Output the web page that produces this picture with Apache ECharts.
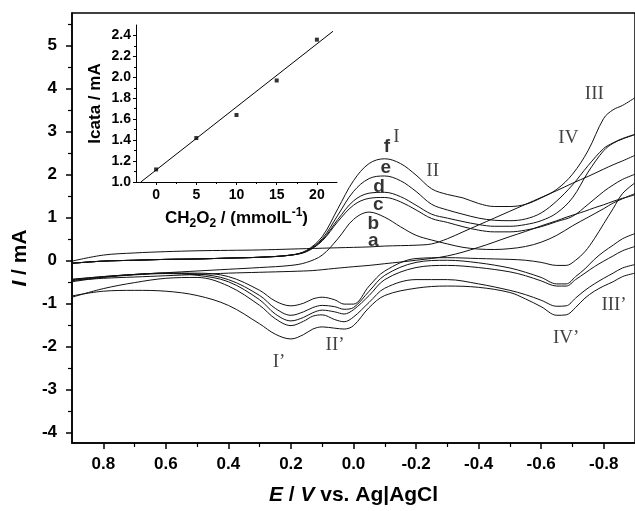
<!DOCTYPE html>
<html><head><meta charset="utf-8">
<script src="https://cdn.jsdelivr.net/npm/echarts@6/dist/echarts.min.js"></script>
<style>html,body{margin:0;padding:0;background:#fff}#c{width:635px;height:511px}</style>
</head><body><div id="c"></div>
<script>
// ---- main CV data (E in V, I in mA) ----
const E_FWD = [0.9, 0.8, 0.7, 0.6, 0.5, 0.4, 0.3, 0.2, 0.15, 0.1, 0.05, 0.0, -0.05, -0.1, -0.15, -0.2, -0.25, -0.3, -0.35, -0.4, -0.45, -0.5, -0.55, -0.6, -0.65, -0.7, -0.75, -0.8, -0.83, -0.86, -0.9];
const E_REV = [-0.9, -0.86, -0.83, -0.8, -0.77, -0.74, -0.71, -0.68, -0.65, -0.6, -0.55, -0.5, -0.4, -0.3, -0.2, -0.1, -0.05, 0.0, 0.03, 0.06, 0.1, 0.13, 0.16, 0.2, 0.25, 0.3, 0.4, 0.5, 0.6, 0.7, 0.8, 0.9];

const I_A_FWD = [-0.02, 0.12, 0.17, 0.2, 0.22, 0.23, 0.24, 0.26, 0.27, 0.28, 0.29, 0.3, 0.31, 0.33, 0.34, 0.35, 0.38, 0.5, 0.66, 0.82, 0.98, 1.14, 1.3, 1.46, 1.62, 1.79, 1.95, 2.12, 2.22, 2.31, 2.44];
const I_B_FWD = [-0.44, -0.38, -0.33, -0.29, -0.25, -0.21, -0.17, -0.12, -0.05, 0.12, 0.5, 0.95, 1.12, 1.0, 0.78, 0.58, 0.47, 0.38, 0.3, 0.26, 0.25, 0.27, 0.32, 0.42, 0.58, 0.8, 1.0, 1.2, 1.33, 1.43, 1.55];
const I_C_FWD = [-0.07, -0.02, 0.0, 0.02, 0.03, 0.05, 0.07, 0.12, 0.2, 0.45, 0.9, 1.28, 1.44, 1.46, 1.36, 1.17, 0.97, 0.88, 0.78, 0.7, 0.66, 0.66, 0.7, 0.78, 0.9, 1.02, 1.3, 1.6, 1.75, 1.88, 2.0];
const I_D_FWD = [-0.07, -0.02, 0.0, 0.02, 0.03, 0.05, 0.07, 0.12, 0.21, 0.47, 0.95, 1.38, 1.56, 1.58, 1.48, 1.28, 1.07, 0.98, 0.9, 0.83, 0.79, 0.79, 0.83, 0.92, 1.1, 1.45, 2.05, 2.55, 2.72, 2.82, 2.92];
const I_E_FWD = [-0.07, -0.02, 0.0, 0.02, 0.03, 0.05, 0.07, 0.12, 0.22, 0.5, 1.05, 1.6, 1.9, 1.96, 1.85, 1.6, 1.3, 1.17, 1.07, 0.98, 0.93, 0.92, 0.96, 1.1, 1.38, 1.75, 2.2, 2.6, 2.73, 2.83, 2.93];
const I_F_FWD = [-0.07, -0.02, 0.0, 0.02, 0.03, 0.05, 0.07, 0.12, 0.23, 0.55, 1.2, 1.85, 2.25, 2.36, 2.25, 1.98, 1.66, 1.53, 1.45, 1.32, 1.25, 1.25, 1.3, 1.45, 1.65, 2.0, 2.55, 3.3, 3.5, 3.6, 3.78];

const I_A_REV = [1.52, 1.44, 1.37, 1.29, 1.22, 1.14, 1.07, 1.0, 0.92, 0.8, 0.67, 0.55, 0.3, 0.1, 0.0, -0.08, -0.12, -0.15, -0.17, -0.19, -0.22, -0.24, -0.25, -0.26, -0.27, -0.28, -0.3, -0.33, -0.36, -0.39, -0.42, -0.47];
const I_B_REV = [1.8, 1.55, 1.2, 0.85, 0.5, 0.2, 0.0, -0.12, -0.12, -0.05, 0.0, 0.02, 0.04, 0.06, 0.04, -0.25, -0.6, -1.02, -1.02, -0.92, -0.86, -0.9, -1.0, -1.06, -0.95, -0.7, -0.38, -0.3, -0.3, -0.33, -0.38, -0.45];
const I_C_REV = [0.62, 0.5, 0.35, 0.2, 0.02, -0.2, -0.38, -0.55, -0.55, -0.4, -0.28, -0.18, -0.06, 0.0, -0.05, -0.35, -0.72, -1.1, -1.14, -1.08, -1.05, -1.1, -1.2, -1.28, -1.12, -0.82, -0.45, -0.32, -0.3, -0.33, -0.39, -0.47];
const I_D_REV = [0.32, 0.22, 0.1, -0.02, -0.15, -0.3, -0.45, -0.6, -0.6, -0.48, -0.36, -0.27, -0.17, -0.12, -0.17, -0.45, -0.82, -1.15, -1.25, -1.2, -1.16, -1.22, -1.33, -1.41, -1.25, -0.92, -0.5, -0.35, -0.31, -0.34, -0.4, -0.5];
const I_E_REV = [-0.1, -0.18, -0.3, -0.42, -0.55, -0.7, -0.88, -1.06, -1.07, -0.93, -0.8, -0.7, -0.55, -0.45, -0.45, -0.65, -0.98, -1.32, -1.43, -1.38, -1.27, -1.3, -1.42, -1.52, -1.36, -1.05, -0.6, -0.4, -0.42, -0.52, -0.66, -0.86];
const I_F_REV = [-0.3, -0.38, -0.5, -0.6, -0.72, -0.88, -1.1, -1.27, -1.28, -1.08, -0.9, -0.75, -0.63, -0.6, -0.65, -0.82, -1.1, -1.52, -1.6, -1.58, -1.55, -1.6, -1.73, -1.83, -1.72, -1.48, -1.05, -0.82, -0.72, -0.7, -0.72, -0.83];

// ---- inset data ----
const INSET_C = [0, 5, 10, 15, 20];
const INSET_I = [1.12, 1.42, 1.64, 1.97, 2.36];
const FIT_X = [-1.9, 22.0];
const FIT_Y = [1.0, 2.44];

// ---- ticks ----
const X_TICKS = [0.8, 0.6, 0.4, 0.2, 0.0, -0.2, -0.4, -0.6, -0.8];
const X_MINOR = [0.7, 0.5, 0.3, 0.1, -0.1, -0.3, -0.5, -0.7];
const Y_TICKS = [-4, -3, -2, -1, 0, 1, 2, 3, 4, 5];
const Y_MINOR = [-3.5, -2.5, -1.5, -0.5, 0.5, 1.5, 2.5, 3.5, 4.5, 5.5];
const IX_TICKS = [0, 5, 10, 15, 20];
const IX_MINOR = [2.5, 7.5, 12.5, 17.5];
const IY_TICKS = [1.0, 1.2, 1.4, 1.6, 1.8, 2.0, 2.2, 2.4];
const IY_MINOR = [1.1, 1.3, 1.5, 1.7, 1.9, 2.1, 2.3];

// ---- annotations ----
const LETTER_E = [-0.107, -0.103, -0.082, -0.079, -0.063, -0.063];
const LETTER_I = [2.64, 2.15, 1.72, 1.3, 0.84, 0.45];
const LETTER_TXT = ['f', 'e', 'd', 'c', 'b', 'a'];
const ROMAN_E = [-0.137, -0.253, -0.77, -0.687, 0.238, 0.059, -0.68, -0.833];
const ROMAN_I = [2.86, 2.07, 3.87, 2.85, -2.36, -1.96, -1.82, -1.04];
const ROMAN_TXT = ['I', 'II', 'III', 'IV', 'I\u2019', 'II\u2019', 'IV\u2019', 'III\u2019'];

const SANS = "'Liberation Sans', Arial, Helvetica, sans-serif";
const SERIF = "'Liberation Serif', 'Times New Roman', serif";

const zip = (a, b) => a.map((v, i) => [v, b[i]]);

function tickAxis(o) {
  return Object.assign({
    type: 'value', splitLine: { show: false },
    axisLine: { show: false, onZero: false },
    axisTick: { show: false }, axisLabel: { show: false }
  }, o);
}

const chart = echarts.init(document.getElementById('c'), null, { renderer: 'canvas' });

const curves = [
  ['a', I_A_FWD, I_A_REV], ['b', I_B_FWD, I_B_REV], ['c', I_C_FWD, I_C_REV],
  ['d', I_D_FWD, I_D_REV], ['e', I_E_FWD, I_E_REV], ['f', I_F_FWD, I_F_REV]
];
const series = [];
curves.forEach(([k, fwd, rev]) => {
  [[E_FWD, fwd], [E_REV, rev]].forEach(([ex, iy]) => {
    series.push({
      type: 'line', xAxisIndex: 0, yAxisIndex: 0, data: zip(ex, iy),
      showSymbol: false, smooth: 0.35, silent: true,
      lineStyle: { color: '#111', width: 1 }
    });
  });
});
series.push({
  type: 'line', xAxisIndex: 2, yAxisIndex: 2, data: zip(FIT_X, FIT_Y),
  showSymbol: false, silent: true, lineStyle: { color: '#000', width: 1 }
});
series.push({
  type: 'scatter', xAxisIndex: 2, yAxisIndex: 2, data: zip(INSET_C, INSET_I),
  symbol: 'rect', symbolSize: 4, itemStyle: { color: '#000' }, silent: true
});
series.push({
  type: 'scatter', xAxisIndex: 0, yAxisIndex: 0, symbolSize: 0, silent: true,
  data: LETTER_E.map((e, i) => [e, LETTER_I[i], LETTER_TXT[i]]),
  label: { show: true, position: 'inside', formatter: p => p.data[2],
    fontFamily: SANS, fontWeight: 'bold', fontSize: 19, color: '#000' }
});
series.push({
  type: 'scatter', xAxisIndex: 0, yAxisIndex: 0, symbolSize: 0, silent: true,
  data: ROMAN_E.map((e, i) => [e, ROMAN_I[i], ROMAN_TXT[i]]),
  label: { show: true, position: 'inside', formatter: p => p.data[2],
    fontFamily: SERIF, fontWeight: 'normal', fontSize: 19, color: '#111' }
});

const option = {
  animation: false,
  backgroundColor: '#fff',
  grid: [
    { left: 72, top: 13, width: 569, height: 430, show: true, borderColor: '#000', borderWidth: 1.5, backgroundColor: 'transparent' },
    { left: 136, top: 25, width: 201, height: 157, show: false }
  ],
  xAxis: [
    {
      type: 'value', gridIndex: 0, position: 'bottom', min: -0.9, max: 0.9, inverse: true,
      splitLine: { show: false },
      axisLine: { show: true, onZero: false, lineStyle: { color: '#000', width: 1.5 } },
      axisTick: { show: true, inside: false, length: 6, customValues: X_TICKS, lineStyle: { color: '#000', width: 1.5 } },
      axisLabel: { show: true, customValues: X_TICKS, formatter: v => Number(v).toFixed(1), margin: 13,
        fontFamily: SANS, fontWeight: 'bold', fontSize: 17, color: '#000' },
      name: '{i|E} / {i|V} vs. Ag|AgCl', nameLocation: 'middle', nameGap: 42,
      nameTextStyle: { fontFamily: SANS, fontWeight: 'bold', fontSize: 21, color: '#000',
        rich: { i: { fontFamily: SANS, fontWeight: 'bold', fontStyle: 'italic', fontSize: 21, color: '#000' } } }
    },
    tickAxis({ gridIndex: 0, position: 'bottom', min: -0.9, max: 0.9, inverse: true,
      axisTick: { show: true, length: 4, customValues: X_MINOR, lineStyle: { color: '#000', width: 1.2 } } }),
    {
      type: 'value', gridIndex: 1, position: 'bottom', min: -2.5, max: 22.5,
      splitLine: { show: false },
      axisLine: { show: true, onZero: false, lineStyle: { color: '#000', width: 1 } },
      axisTick: { show: true, length: 3, customValues: IX_TICKS, lineStyle: { color: '#000', width: 1 } },
      axisLabel: { show: true, customValues: IX_TICKS, margin: 6, fontFamily: SANS, fontWeight: 'bold', fontSize: 14, color: '#000' },
      name: 'CH{sub|2}O{sub|2} / (mmolL{sup|-1})', nameLocation: 'middle', nameGap: 25,
      nameTextStyle: { fontFamily: SANS, fontWeight: 'bold', fontSize: 17, color: '#000', lineHeight: 23,
        rich: {
          sub: { fontFamily: SANS, fontWeight: 'bold', fontSize: 12, verticalAlign: 'bottom', lineHeight: 23, color: '#000' },
          sup: { fontFamily: SANS, fontWeight: 'bold', fontSize: 12, verticalAlign: 'top', lineHeight: 23, color: '#000' }
        } }
    },
    tickAxis({ gridIndex: 1, position: 'bottom', min: -2.5, max: 22.5,
      axisTick: { show: true, length: 2, customValues: IX_MINOR, lineStyle: { color: '#000', width: 1 } } })
  ],
  yAxis: [
    {
      type: 'value', gridIndex: 0, position: 'left', min: -4.25, max: 5.75,
      splitLine: { show: false },
      axisLine: { show: true, onZero: false, lineStyle: { color: '#000', width: 1.5 } },
      axisTick: { show: true, length: 6, customValues: Y_TICKS, lineStyle: { color: '#000', width: 1.5 } },
      axisLabel: { show: true, customValues: Y_TICKS, formatter: v => String(v), margin: 15,
        fontFamily: SANS, fontWeight: 'bold', fontSize: 17, color: '#000' }
    },
    tickAxis({ gridIndex: 0, position: 'left', min: -4.25, max: 5.75,
      axisTick: { show: true, length: 4, customValues: Y_MINOR, lineStyle: { color: '#000', width: 1.2 } } }),
    {
      type: 'value', gridIndex: 1, position: 'left', min: 1.0, max: 2.5,
      splitLine: { show: false },
      axisLine: { show: true, onZero: false, lineStyle: { color: '#000', width: 1 } },
      axisTick: { show: true, length: 3, customValues: IY_TICKS, lineStyle: { color: '#000', width: 1 } },
      axisLabel: { show: true, customValues: IY_TICKS, formatter: v => Number(v).toFixed(1), margin: 5,
        fontFamily: SANS, fontWeight: 'bold', fontSize: 14, color: '#000' },
      name: 'Icata / mA', nameLocation: 'middle', nameGap: 32,
      nameTextStyle: { fontFamily: SANS, fontWeight: 'bold', fontSize: 17, color: '#000' }
    },
    tickAxis({ gridIndex: 1, position: 'left', min: 1.0, max: 2.5,
      axisTick: { show: true, length: 2, customValues: IY_MINOR, lineStyle: { color: '#000', width: 1 } } })
  ],
  graphic: [{
    type: 'text', x: 20, y: 258, rotation: Math.PI / 2, silent: true,
    style: {
      text: '{i|I} / mA', align: 'center', verticalAlign: 'middle',
      fontFamily: SANS, fontWeight: 'bold', fontSize: 21, fill: '#000',
      rich: { i: { fontFamily: SANS, fontWeight: 'bold', fontStyle: 'italic', fontSize: 21, fill: '#000' } }
    }
  }],
  series: series
};
chart.setOption(option);
</script>
</body></html>
